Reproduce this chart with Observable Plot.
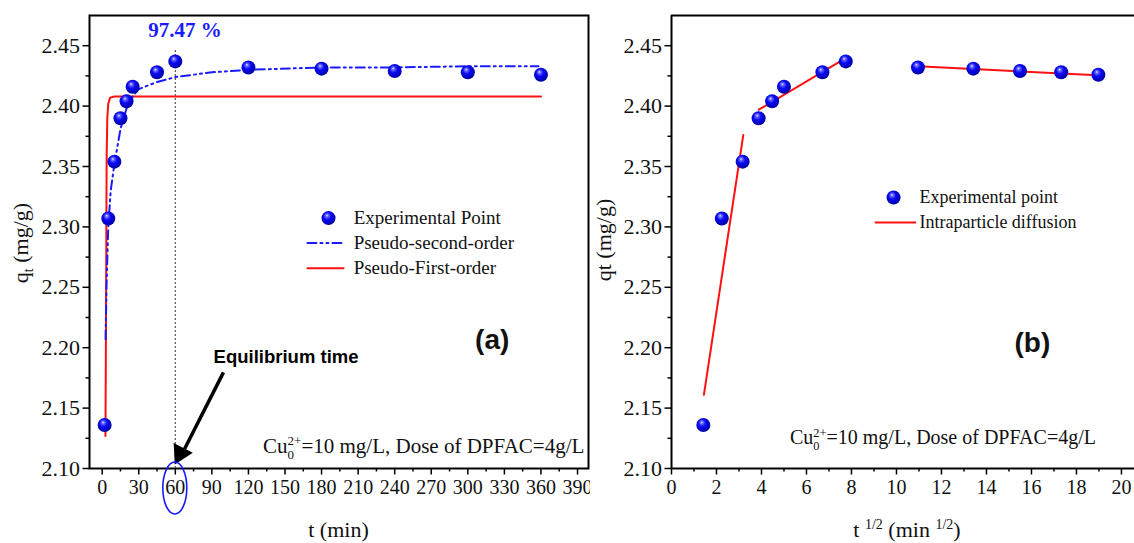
<!DOCTYPE html>
<html><head><meta charset="utf-8">
<script src="https://cdn.jsdelivr.net/npm/d3@7"></script>
<script src="https://cdn.jsdelivr.net/npm/@observablehq/plot@0.6"></script>
<style>
body{margin:0;background:#fff;}
#wrap{position:relative;width:1134px;height:543px;overflow:hidden;background:#fff;}
#a,#b{position:absolute;top:0;}
#a{left:0;} #b{left:590px;}
</style>
</head><body>
<div id="wrap"><div id="a"></div><div id="b"></div></div>
<script>
// ---------- data ----------
const tMin = [2, 5, 10, 15, 20, 25, 45, 60, 120, 180, 240, 300, 360];
const qExp = [2.136, 2.307, 2.354, 2.390, 2.404, 2.416, 2.428, 2.437, 2.432, 2.431, 2.429, 2.428, 2.426];
const psoT = [2.8, 3.5, 5, 7, 10, 15, 20, 25, 30, 45, 60, 90, 120, 180, 240, 300, 358];
const psoQ = [2.207, 2.25, 2.30, 2.33, 2.352, 2.381, 2.398, 2.408, 2.414, 2.420, 2.424, 2.428, 2.430, 2.432, 2.432, 2.433, 2.433];
const pfoT = [2.7, 3.0, 3.3, 3.5, 3.7, 4.2, 5, 6.5, 10, 360];
const pfoQ = [2.127, 2.19, 2.26, 2.32, 2.36, 2.39, 2.402, 2.407, 2.408, 2.408];
const ipdSeg = [1, 1, 2, 2, 3, 3];
const ipdX = [1.44, 3.19, 3.88, 7.76, 10.95, 18.93];
const ipdQ = [2.161, 2.376, 2.397, 2.440, 2.433, 2.4255];
const xTicksA = [0, 30, 60, 90, 120, 150, 180, 210, 240, 270, 300, 330, 360, 390];
const xMinorA = [15, 45, 75, 105, 135, 165, 195, 225, 255, 285, 315, 345, 375];
const xTicksB = [0, 2, 4, 6, 8, 10, 12, 14, 16, 18, 20];
const xMinorB = [1, 3, 5, 7, 9, 11, 13, 15, 17, 19];
const yTicks = [2.10, 2.15, 2.20, 2.25, 2.30, 2.35, 2.40, 2.45];
const yMinor = [2.125, 2.175, 2.225, 2.275, 2.325, 2.375, 2.425];

const expData = tMin.map((t, i) => ({t, s: Math.sqrt(t), q: qExp[i]}));
const pso = psoT.map((t, i) => ({t, q: psoQ[i]}));
const pfo = pfoT.map((t, i) => ({t, q: pfoQ[i]}));
const ipd = ipdX.map((s, i) => ({s, q: ipdQ[i], seg: ipdSeg[i]}));

const serif = "'Liberation Serif', 'Times New Roman', Times, serif";
const sans = "'Liberation Sans', Arial, Helvetica, sans-serif";
const RED = "#ff1010", BLUE = "#1a1aff";
const dashDD = "9,4,2,4,2,4";

function axes(xt, xm) {
  return [
    Plot.axisX({ticks: xm, tickSize: 3.5, tickFormat: () => "", strokeWidth: 1.5, label: null}),
    Plot.axisX({ticks: xt, tickSize: 6.5, tickPadding: 5, strokeWidth: 1.5, fontSize: 20, fontVariant: "normal", fill: "#111", label: null}),
    Plot.axisY({ticks: yMinor, tickSize: 3.5, tickFormat: () => "", strokeWidth: 1.5, label: null}),
    Plot.axisY({ticks: yTicks, tickSize: 6.5, tickPadding: 3, strokeWidth: 1.5, fontSize: 22, fontVariant: "normal", fill: "#111", tickFormat: d => d.toFixed(2), label: null})
  ];
}

// ---------- panel (a) ----------
const plotA = Plot.plot({
  width: 590, height: 543,
  marginLeft: 89, marginRight: 2, marginTop: 15, marginBottom: 75,
  style: {fontFamily: serif, background: "white", overflow: "visible"},
  x: {domain: [-10.4, 399]},
  y: {domain: [2.10, 2.475]},
  marks: [
    ...axes(xTicksA, xMinorA),
    Plot.frame({stroke: "black", strokeWidth: 2}),
    Plot.ruleX([60], {y1: 2.10, y2: 2.447, stroke: "#555", strokeWidth: 1.2, strokeDasharray: "2,2"}),
    Plot.line(pfo, {x: "t", y: "q", stroke: RED, strokeWidth: 2}),
    Plot.line(pso, {x: "t", y: "q", stroke: BLUE, strokeWidth: 2, strokeDasharray: dashDD}),
    Plot.dot(expData, {x: "t", y: "q", r: 7, fill: "url(#ballA)"}),
    // annotations
    Plot.text(["97.47 %"], {x: 68, y: 2.4625, text: d => d, fontWeight: "bold", fontSize: 21, fill: BLUE}),
    Plot.text(["Equilibrium time"], {x: 91.4, y: 2.192, text: d => d, textAnchor: "start", fontWeight: "bold", fontSize: 18.5, fill: "black"}),
    Plot.link([{x1: 99.5, y1: 2.1796, x2: 65.5, y2: 2.112}], {x1: "x1", y1: "y1", x2: "x2", y2: "y2", stroke: "black", strokeWidth: 3.5}),
    Plot.dot([{x: 64.2, y: 2.1125}], {x: "x", y: "y", symbol: "triangle", r: 8, rotate: 207, fill: "black", stroke: "none"}),
    Plot.text(["(a)"], {x: 320, y: 2.2065, text: d => d, fontWeight: "bold", fontSize: 28, fill: "#111"}),
    // legend
    Plot.dot([{x: 185.7, y: 2.3073}], {x: "x", y: "y", r: 7, fill: "url(#ballA)"}),
    Plot.line([{x: 168.4, y: 2.2866}, {x: 198, y: 2.2866}], {x: "x", y: "y", stroke: BLUE, strokeWidth: 2, strokeDasharray: dashDD}),
    Plot.line([{x: 168.4, y: 2.2658}, {x: 198, y: 2.2658}], {x: "x", y: "y", stroke: RED, strokeWidth: 2}),
    Plot.text(["Experimental Point", "Pseudo-second-order", "Pseudo-First-order"], {x: 206.3, y: (d, i) => [2.3073, 2.2866, 2.2658][i], text: d => d, textAnchor: "start", fontSize: 19, fill: "#111"})
  ]
});

// ---------- panel (b) ----------
const plotB = Plot.plot({
  width: 544, height: 543,
  marginLeft: 81, marginRight: 0, marginTop: 15, marginBottom: 75,
  style: {fontFamily: serif, background: "white", overflow: "visible"},
  x: {domain: [0, 20.58]},
  y: {domain: [2.10, 2.475]},
  marks: [
    ...axes(xTicksB, xMinorB),
    Plot.ruleY([2.10, 2.475], {stroke: "black", strokeWidth: 2}),
    Plot.ruleX([0], {stroke: "black", strokeWidth: 2}),
    Plot.line(ipd, {x: "s", y: "q", z: "seg", stroke: RED, strokeWidth: 2}),
    Plot.dot(expData, {x: "s", y: "q", r: 7, fill: "url(#ballB)"}),
    Plot.text(["(b)"], {x: 16.04, y: 2.2035, text: d => d, fontWeight: "bold", fontSize: 28, fill: "#111"}),
    // legend
    Plot.dot([{x: 9.87, y: 2.3243}], {x: "x", y: "y", r: 7, fill: "url(#ballB)"}),
    Plot.line([{x: 9.07, y: 2.3036}, {x: 10.84, y: 2.3036}], {x: "x", y: "y", stroke: RED, strokeWidth: 2}),
    Plot.text(["Experimental point", "Intraparticle diffusion"], {x: 11.02, y: (d, i) => [2.3243, 2.3036][i], text: d => d, textAnchor: "start", fontSize: 18, fill: "#111"})
  ]
});

document.getElementById("a").appendChild(plotA);
document.getElementById("b").appendChild(plotB);

// ---------- decorations using the plots' scales ----------
function addGrad(svg, id) {
  const g = d3.select(svg).insert("defs", ":first-child").append("radialGradient")
    .attr("id", id).attr("cx", "45%").attr("cy", "42%").attr("r", "60%").attr("fx", "38%").attr("fy", "30%");
  [[0, "#f0f0ff"], [0.15, "#7070ff"], [0.45, "#0a0af5"], [1, "#0000a0"]]
    .forEach(([o, c]) => g.append("stop").attr("offset", o).attr("stop-color", c));
}
addGrad(plotA, "ballA");
addGrad(plotB, "ballB");

function cuText(plot, xv, yv, size) {
  const x = plot.scale("x").apply(xv), y = plot.scale("y").apply(yv);
  const t = d3.select(plot).append("text").attr("x", x).attr("y", y)
    .style("text-anchor", "start").style("font-size", size + "px").attr("fill", "#111");
  t.append("tspan").text("Cu");
  t.append("tspan").style("font-size", (size * 0.62) + "px").attr("dy", size * 0.28).text("0");
  t.append("tspan").style("font-size", (size * 0.62) + "px").attr("dx", -size * 0.31).attr("dy", -size * 0.66).text("2+");
  t.append("tspan").attr("dy", size * 0.38).text("=10 mg/L, Dose of DPFAC=4g/L");
}
cuText(plotA, 132.4, 2.1121, 21);
cuText(plotB, 5.29, 2.1195, 20);

// ellipse around the 60 tick label
{
  const x = plotA.scale("x").apply(60), y = plotA.scale("y").apply(2.10);
  d3.select(plotA).append("ellipse").attr("cx", x).attr("cy", y + 20).attr("rx", 12).attr("ry", 26)
    .attr("fill", "none").attr("stroke", "#1a1aff").attr("stroke-width", 1.6);
}

// axis titles
function yTitle(plot, cx, cy, sub) {
  const t = d3.select(plot).append("text").attr("transform", `translate(${cx},${cy}) rotate(-90)`)
    .style("text-anchor", "middle").style("font-size", "22px").attr("fill", "#111");
  t.append("tspan").text("q");
  if (sub) {
    t.append("tspan").style("font-size", "14px").attr("dy", 5).text("t");
    t.append("tspan").attr("dy", -5).text(" (mg/g)");
  } else {
    t.append("tspan").text("t (mg/g)");
  }
}
yTitle(plotA, 28, 243, true);
yTitle(plotB, 21, 240, false);

d3.select(plotA).append("text").attr("x", 338.5).attr("y", 537).style("text-anchor", "middle")
  .style("font-size", "22px").attr("fill", "#111").text("t (min)");
{
  const t = d3.select(plotB).append("text").attr("x", 317).attr("y", 537).style("text-anchor", "middle")
    .style("font-size", "22px").attr("fill", "#111");
  t.append("tspan").text("t ");
  t.append("tspan").style("font-size", "14px").attr("dy", -8).text("1/2");
  t.append("tspan").attr("dy", 8).text(" (min ");
  t.append("tspan").style("font-size", "14px").attr("dy", -8).text("1/2");
  t.append("tspan").attr("dy", 8).text(")");
}

// force fonts: serif everywhere, sans for the bold panel annotations
for (const p of [plotA, plotB]) {
  d3.select(p).selectAll("text").each(function () {
    const s = this.textContent;
    const isSans = s === "(a)" || s === "(b)" || s === "Equilibrium time";
    d3.select(this).style("font-family", isSans ? sans : serif).style("font-variant", "normal");
  });
}
</script>
</body></html>
